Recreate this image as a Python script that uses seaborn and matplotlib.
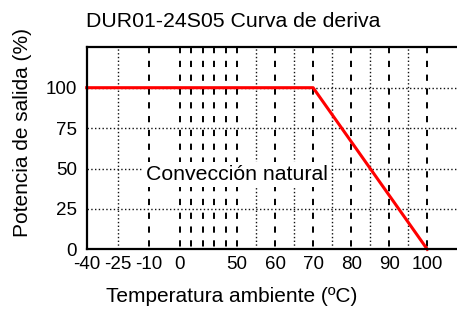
import numpy as np
import matplotlib
matplotlib.use("Agg")
import matplotlib.pyplot as plt
import seaborn as sns

# Datos de la curva de derivación
curve_temp = [-40, 70, 100]
curve_power = [100, 100, 0]

# Etiquetas de los ejes
xtick_vals = [-40, -25, -10, 0, 50, 60, 70, 80, 90, 100]
xtick_labels = ["-40", "-25", "-10", "0", "50", "60", "70", "80", "90", "100"]
ytick_vals = [0, 25, 50, 75, 100]
ytick_labels = ["0", "25", "50", "75", "100"]

# Líneas de la rejilla
dashed_temps = [-10, 0, 10, 20, 30, 40, 50, 60, 70, 80, 90, 100]
dotted_temps = [-25, 55, 65, 75, 85, 95]
hgrid_power = [25, 50, 75, 100]

title = "DUR01-24S05 Curva de deriva"
xlabel = "Temperatura ambiente (ºC)"
ylabel = "Potencia de salida (%)"
note = "Convección natural"

sns.set_theme(style="white")
plt.rcParams["font.family"] = ["Liberation Sans", "DejaVu Sans"]
plt.rcParams["axes.unicode_minus"] = False
plt.rcParams["text.color"] = "black"

# Escala no lineal del eje x (por tramos)
knots_t = [-40, -25, -10, 0, 50, 100, 130]
knots_p = [0, 31.6, 62.3, 93.3, 150.3, 340.6, 454.8]


def fwd(x):
    return np.interp(x, knots_t, knots_p)


def inv(p):
    return np.interp(p, knots_p, knots_t)


fig = plt.figure(figsize=(4.57, 3.12), dpi=100)
ax = fig.add_axes([86.7 / 457, 62.7 / 312, 374.85 / 457, 202 / 312])
ax.set_xscale("function", functions=(fwd, inv))
ax.set_xlim(-40, 109)
ax.set_ylim(0, 125)

for t in dashed_temps:
    ax.axvline(t, ymin=1, ymax=0, color="black", lw=1.4,
               linestyle=(0, (3.2, 3.9)), zorder=1)
for t in dotted_temps:
    ax.axvline(t, color="#111111", lw=1.0, linestyle=(0, (1, 1.7)), zorder=1)
for p in hgrid_power:
    ax.axhline(p, color="#111111", lw=1.0, linestyle=(0, (1, 1.7)), zorder=1)

sns.lineplot(x=curve_temp, y=curve_power, color="red", lw=2.2, sort=False,
             ax=ax, zorder=4)
for ln in ax.lines[-1:]:
    ln.set_clip_on(False)
    ln.set_solid_capstyle("projecting")

ax.text(50, 46.3, note, ha="center", va="center", fontsize=15.3, zorder=3,
        color="black", bbox=dict(facecolor="white", edgecolor="none", pad=2))

ax.set_xticks(xtick_vals)
ax.set_xticklabels(xtick_labels)
ax.set_yticks(ytick_vals)
ax.set_yticklabels(ytick_labels)
ax.xaxis.set_minor_locator(matplotlib.ticker.NullLocator())
ax.tick_params(axis="both", length=0, labelsize=13.5, colors="black")
ax.tick_params(axis="x", pad=5)
ax.tick_params(axis="y", pad=7)

for s in ["left", "bottom", "top"]:
    ax.spines[s].set_color("black")
    ax.spines[s].set_linewidth(1.6)
    ax.spines[s].set_zorder(5)
ax.spines["right"].set_visible(False)

ax.set_xlabel(xlabel, fontsize=15, color="black")
ax.xaxis.set_label_coords(0.388, -0.261)
ax.xaxis.label.set_va("baseline")
ax.set_ylabel(ylabel, fontsize=15, color="black")
ax.yaxis.set_label_coords(-0.145, 0.578)

ax.text(0.39, 1.102, title, transform=ax.transAxes, ha="center",
        va="baseline", fontsize=15.3, color="black")

fig.savefig("out.png", dpi=100)
plt.close(fig)
